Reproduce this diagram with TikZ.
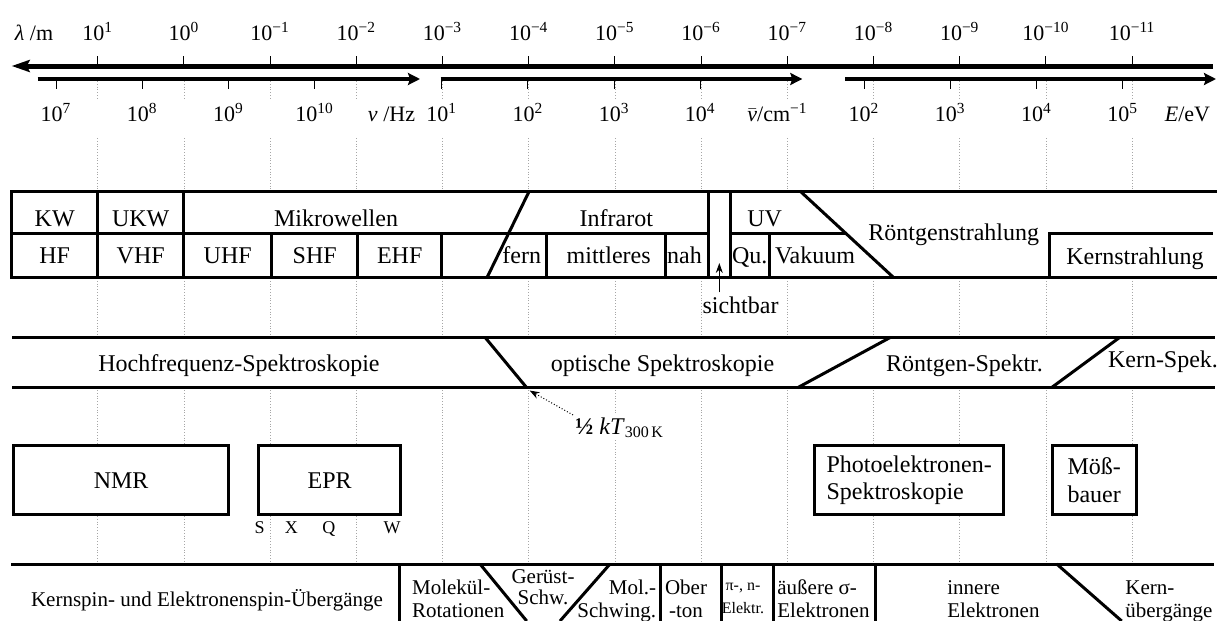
\documentclass[tikz,border=0pt]{standalone}
\usepackage{fontspec}
\setmainfont{Liberation Serif}
\usetikzlibrary{arrows.meta}

\begin{document}
\begin{tikzpicture}[x=0.5pt, y=-0.5pt,
    gridline/.style={gray!70, densely dotted, line width=0.4pt},
    bar/.style={line width=1.5pt},
    tick/.style={line width=0.5pt},
    axislabel/.style={font=\fontsize{11}{13}\selectfont, inner sep=0pt, anchor=base},
    celltext/.style={font=\fontsize{12}{14}\selectfont, inner sep=0pt, anchor=base},
    rowtext/.style={font=\fontsize{10.5}{11.5}\selectfont, inner sep=0pt, anchor=base},
    boxed/.style={draw, line width=1.5pt, fill=white, anchor=north west, font=\fontsize{12}{13.8}\selectfont}]

\useasboundingbox (0,0) rectangle (1221,621);

% GRID %%%%%%%%%%%%%%%%%%%%%%%%%%%%%%%%%%%%%%%%%%%%%%%%%%%%%%%%%%%%%%%%%%%

\foreach \k in {0,...,12} {
  \draw[gridline] ({97.7+86.2*\k},81) -- ({97.7+86.2*\k},98);
  \draw[gridline] ({97.7+86.2*\k},138) -- ({97.7+86.2*\k},621);
}

% SCALES %%%%%%%%%%%%%%%%%%%%%%%%%%%%%%%%%%%%%%%%%%%%%%%%%%%%%%%%%%%%%%%%%

\draw[line width=2.5pt, -{Stealth[length=9pt,width=6pt,inset=1.5pt]}] (1213,66) -- (11.7,66);
\node[axislabel] (lamunit) at (34,40) {\textit{λ} /m};
\foreach \e [count=\k from 0] in {1,0,−1,−2,−3,−4,−5,−6,−7,−8,−9,−10,−11} {
  \draw[tick] ({97.7+86.2*\k},56) -- ({97.7+86.2*\k},66);
  \node[axislabel] (lam\k) at ({97.7+86.2*\k},40) {10\textsuperscript{\e}};
}

\draw[line width=1.6pt, -{Stealth[length=6pt,width=6pt,inset=1pt]}] (37.7,79) -- (420,79);
\foreach \e [count=\k from 0] in {7,8,9,10} {
  \draw[tick] ({56+86.2*\k},79) -- ({56+86.2*\k},89);
  \node[axislabel] (nu\k) at ({56+86.2*\k},121.7) {10\textsuperscript{\e}};
}
\node[axislabel] (nuunit) at (391.5,121.7) {\textit{ν} /Hz};

\draw[line width=1.6pt, -{Stealth[length=6pt,width=6pt,inset=1pt]}] (440.7,79) -- (802.3,79);
\foreach \e [count=\k from 0] in {1,2,3,4} {
  \draw[tick] ({441.7+86.2*\k},79) -- ({441.7+86.2*\k},89);
  \node[axislabel] (wn\k) at ({441.7+86.2*\k},121.7) {10\textsuperscript{\e}};
}
\node[axislabel] (wnunit) at (777.5,121.7) {$\bar{\mbox{\textit{ν}}}$/cm\textsuperscript{−1}};

\draw[line width=1.6pt, -{Stealth[length=6pt,width=6pt,inset=1pt]}] (845,79) -- (1216,79);
\foreach \e [count=\k from 0] in {2,3,4,5} {
  \draw[tick] ({864+86.2*\k},79) -- ({864+86.2*\k},89);
  \node[axislabel] (en\k) at ({864+86.2*\k},121.7) {10\textsuperscript{\e}};
}
\node[axislabel] (enunit) at (1187.5,121.7) {\textit{E}/eV};

% RADIATION TABLE %%%%%%%%%%%%%%%%%%%%%%%%%%%%%%%%%%%%%%%%%%%%%%%%%%%%%%%%

\fill[white] (11.7,191) rectangle (1216.7,277);
\draw[bar] (1216.7,191) -- (11.7,191) -- (11.7,277) -- (1216.7,277);
\draw[bar] (11.7,233) -- (708.3,233);
\draw[bar] (730,233) -- (845.4,233);
\foreach \x in {97.7,183.7,708.3,730} \draw[bar] (\x,191) -- (\x,277);
\foreach \x in {271.7,357.7,441.7,546.7,665.7,769.3} \draw[bar] (\x,233) -- (\x,277);
\draw[bar] (529.3,191) -- (487.3,277);
\draw[bar] (800,191) -- (893,277);
\draw[bar] (1049.7,277) -- (1049.7,233) -- (1213.3,233);

\node[celltext] (kw) at (54.7,226.7) {KW};
\node[celltext] (ukw) at (140.7,226.7) {UKW};
\node[celltext] (mw) at (336,226.7) {Mikrowellen};
\node[celltext] (ir) at (616.3,226.7) {Infrarot};
\node[celltext] (uv) at (764.7,226.7) {UV};
\node[celltext] (xray) at (953.8,240) {Röntgenstrahlung};
\node[celltext] (nuc) at (1135,264) {Kernstrahlung};

\node[celltext] (hf) at (54.7,263.3) {HF};
\node[celltext] (vhf) at (140.7,263.3) {VHF};
\node[celltext] (uhf) at (227.7,263.3) {UHF};
\node[celltext] (shf) at (314.7,263.3) {SHF};
\node[celltext] (ehf) at (399.7,263.3) {EHF};
\node[celltext] (fir) at (521.7,263.3) {fern};
\node[celltext] (mir) at (608.7,263.3) {mittleres};
\node[celltext] (nir) at (684.5,263.3) {nah};
\node[celltext] (quv) at (749.7,263.3) {Qu.};
\node[celltext] (vuv) at (815,263.3) {Vakuum};

\coordinate (vis) at (719.3,263);
\node[celltext] (sicht) at (740.5,313.3) {sichtbar};
\draw[line width=0.5pt, -{Stealth[length=5pt,width=3.5pt]}] ([yshift=2pt]sicht.north -| vis) -- (vis);

% SPECTROSCOPY BAND %%%%%%%%%%%%%%%%%%%%%%%%%%%%%%%%%%%%%%%%%%%%%%%%%%%%%%

\fill[white] (12,337.3) rectangle (1214.6,387.7);
\draw[bar] (12,337.3) -- (1214.6,337.3);
\draw[bar] (12,387.7) -- (1214.6,387.7);
\draw[bar] (485,337.3) -- (526.7,387.7);
\draw[bar] (890.5,337.3) -- (797.6,387.7);
\draw[bar] (1119.8,337.3) -- (1051.4,387.7);

\node[celltext] (hfs) at (239,371.7) {Hochfrequenz-Spektroskopie};
\node[celltext] (opt) at (662.5,371.7) {optische Spektroskopie};
\node[celltext] (xs) at (964.5,371) {Röntgen-Spektr.};
\node[celltext] (ns) at (1163,367.7) {Kern-Spek.};

\coordinate (kt) at (529.6,390.5);
\node[anchor=base west, fill=white, inner sep=1pt, font=\fontsize{12}{14}\selectfont] (half) at (573,434) {\textbf{½} \textit{kT}\textsubscript{300\,K}};
\draw[densely dotted, line width=0.5pt, -{Stealth[length=5pt,width=3.5pt]}] (half.north west) -- (kt);

% METHODS %%%%%%%%%%%%%%%%%%%%%%%%%%%%%%%%%%%%%%%%%%%%%%%%%%%%%%%%%%%%%%%%

\node[boxed, minimum width=107.7pt, minimum height=34.65pt] (nmr) at (11.9,444) {NMR};
\node[boxed, minimum width=71.1pt, minimum height=34.65pt] (epr) at (257,444) {EPR};
\node[boxed, minimum width=94.3pt, minimum height=34.65pt, align=left] (pes) at (813.4,444) {Photoelektronen-\\Spektroskopie};
\node[boxed, minimum width=42.1pt, minimum height=34.65pt, align=left] (moss) at (1050.6,444) {Möß-\\bauer};

\foreach \b/\x in {S/259.7, X/291.3, Q/328.9, W/392}
  \node[anchor=base, inner sep=0pt, font=\fontsize{9}{10}\selectfont] (band\b) at (\x,533.3) {\b};

% TRANSITIONS %%%%%%%%%%%%%%%%%%%%%%%%%%%%%%%%%%%%%%%%%%%%%%%%%%%%%%%%%%%%

\fill[white] (11,564) rectangle (1214,621);
\draw[bar] (11,564) -- (1214,564);
\foreach \x in {399.3,660,721.7,773.3,875} \draw[bar] (\x,564) -- (\x,621);
\draw[bar] (480,564) -- (526.7,621);
\draw[bar] (610,564) -- (560,621);
\draw[bar] (1056.7,564) -- (1121.7,621);

\node[rowtext] (spin) at (207,606.7) {Kernspin- und Elektronenspin-Übergänge};
\node[rowtext, anchor=base west, align=left] (rot) at (411.7,617) {Molekül-\\Rotationen};
\node[rowtext, align=center, font=\fontsize{10.5}{10.5}\selectfont] (skel) at (543,604) {Gerüst-\\Schw.};
\node[rowtext, anchor=base east, align=right] (vib) at (656.5,617) {Mol.-\\Schwing.};
\node[rowtext, align=center] (over) at (686,617) {Ober\\-ton};
\node[rowtext, align=center, font=\fontsize{8}{11.5}\selectfont] (pin) at (743,613) {π-, n-\\Elektr.};
\node[rowtext, anchor=base west, align=left] (outer) at (777,617) {äußere σ-\\Elektronen};
\node[rowtext, anchor=base west, align=left] (inner) at (947,617) {innere\\Elektronen};
\node[rowtext, anchor=base west, align=left] (nucl) at (1125,617) {Kern-\\übergänge};

\end{tikzpicture}
\end{document}
